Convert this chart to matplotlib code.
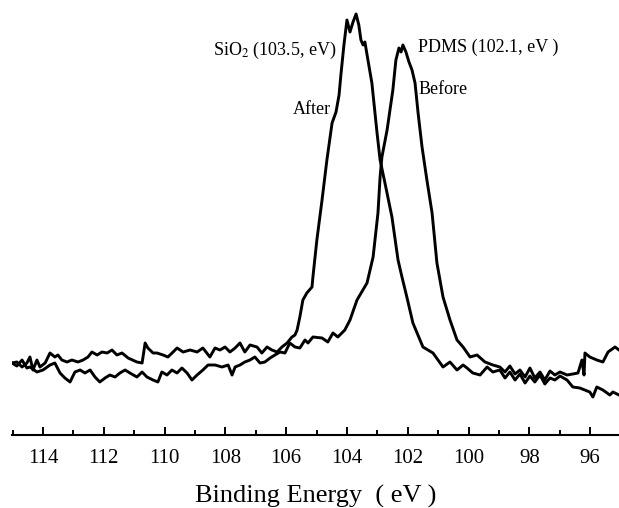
import numpy as np
import matplotlib
matplotlib.use("Agg")
import matplotlib.pyplot as plt
from matplotlib.ticker import MultipleLocator

plt.rcParams['font.family'] = ['Liberation Serif', 'DejaVu Serif']
plt.rcParams['mathtext.fontset'] = 'stix'

# Si 2p spectra (intensity in arbitrary units)
after_energy = [115.02, 114.86, 114.69, 114.53, 114.43, 114.33, 114.20, 114.10, 113.93, 113.77,
                113.61, 113.51, 113.38, 113.21, 113.05, 112.85, 112.68, 112.52, 112.39, 112.22,
                112.06, 111.89, 111.73, 111.57, 111.40, 111.20, 110.91, 110.74, 110.64, 110.55,
                110.38, 110.25, 110.05, 109.89, 109.72, 109.59, 109.39, 109.16, 108.93, 108.74,
                108.51, 108.34, 108.18, 108.01, 107.85, 107.68, 107.52, 107.36, 107.19, 106.96,
                106.80, 106.63, 106.47, 106.30, 106.14, 105.97, 105.81, 105.71, 105.64, 105.55,
                105.45, 105.32, 105.15, 105.12, 104.99, 104.82, 104.66, 104.49, 104.36, 104.26,
                104.20, 104.10, 104.00, 103.90, 103.80, 103.70, 103.61, 103.54, 103.47, 103.41,
                103.31, 103.18, 103.01, 102.91, 102.75, 102.52, 102.32, 102.19, 102.03, 101.83,
                101.50, 101.17, 100.84, 100.61, 100.38, 100.18, 100.05, 99.86, 99.62, 99.39,
                99.20, 98.97, 98.80, 98.64, 98.47, 98.31, 98.14, 97.98, 97.82, 97.65,
                97.49, 97.32, 97.16, 96.99, 96.76, 96.57, 96.34, 96.01, 95.91, 95.78,
                95.58, 95.35, 95.25, 95.05]
after_counts = [37, 38, 33, 37, 43, 30, 40, 33, 37, 47,
                43, 45, 40, 38, 40, 38, 40, 43, 48, 45,
                48, 47, 50, 45, 47, 42, 38, 37, 57, 52,
                47, 47, 45, 43, 48, 52, 48, 50, 48, 52,
                43, 52, 50, 53, 48, 52, 57, 48, 55, 53,
                47, 53, 50, 48, 53, 57, 63, 65, 70, 83,
                100, 107, 113, 123, 160, 200, 240, 277, 288, 305,
                325, 355, 380, 368, 378, 386, 375, 360, 355, 358,
                340, 317, 267, 240, 217, 183, 140, 123, 103, 77,
                53, 47, 33, 38, 30, 35, 32, 27, 25, 33,
                28, 30, 22, 28, 20, 26, 17, 24, 18, 25,
                16, 22, 20, 24, 20, 13, 12, 8, 3, 13,
                10, 5, 8, 5]

before_energy = [115.02, 114.86, 114.69, 114.53, 114.43, 114.20, 114.00, 113.77, 113.61, 113.44,
                 113.28, 113.11, 112.95, 112.78, 112.62, 112.45, 112.29, 112.13, 111.96, 111.80,
                 111.63, 111.47, 111.30, 111.14, 110.91, 110.74, 110.58, 110.38, 110.22, 110.09,
                 109.92, 109.76, 109.59, 109.43, 109.26, 109.10, 108.93, 108.74, 108.57, 108.34,
                 108.11, 107.91, 107.78, 107.68, 107.52, 107.36, 107.19, 107.03, 106.86, 106.70,
                 106.53, 106.37, 106.20, 106.04, 105.88, 105.71, 105.55, 105.38, 105.28, 105.12,
                 104.82, 104.63, 104.46, 104.30, 104.07, 103.90, 103.67, 103.34, 103.14, 102.98,
                 102.91, 102.85, 102.68, 102.49, 102.39, 102.29, 102.22, 102.16, 102.06, 101.96,
                 101.86, 101.76, 101.66, 101.53, 101.37, 101.20, 101.04, 100.84, 100.61, 100.38,
                 100.18, 99.95, 99.72, 99.46, 99.20, 98.97, 98.80, 98.64, 98.47, 98.31,
                 98.14, 97.98, 97.82, 97.65, 97.49, 97.32, 97.16, 96.99, 96.76, 96.57,
                 96.40, 96.27, 96.20, 96.17, 96.01, 95.78, 95.58, 95.41, 95.18, 95.05]
before_counts = [37, 34, 40, 32, 33, 28, 30, 35, 37, 27,
                 22, 18, 28, 30, 27, 30, 23, 18, 22, 25,
                 23, 27, 30, 27, 23, 28, 23, 20, 18, 28,
                 25, 30, 27, 32, 27, 20, 25, 30, 35, 35,
                 33, 35, 25, 33, 35, 38, 40, 43, 37, 38,
                 42, 45, 48, 47, 57, 53, 52, 60, 57, 63,
                 62, 58, 67, 63, 70, 80, 100, 117, 143, 187,
                 223, 243, 270, 310, 340, 352, 348, 355, 348, 338,
                 330, 317, 287, 253, 220, 187, 137, 103, 80, 60,
                 53, 43, 45, 38, 35, 33, 28, 34, 26, 30,
                 23, 32, 22, 28, 20, 29, 25, 28, 25, 26,
                 27, 40, 25, 47, 43, 40, 38, 48, 53, 50]

x_ticks = [114, 112, 110, 108, 106, 104, 102, 100, 98, 96]

fig = plt.figure(figsize=(6.19, 5.08), dpi=100)
ax = fig.add_axes([12 / 619, 73 / 508, 607 / 619, 435 / 508])

ax.plot(after_energy, after_counts, color='black', linewidth=2.1)
ax.plot(before_energy, before_counts, color='black', linewidth=2.1)

ax.set_xlim(115.02, 95.05)
ax.set_ylim(-35, 400)

for s in ['left', 'right', 'top']:
    ax.spines[s].set_visible(False)
ax.spines['bottom'].set_linewidth(1.5)
ax.set_yticks([])
ax.set_xticks(x_ticks)
ax.xaxis.set_minor_locator(MultipleLocator(1))
ax.tick_params(axis='x', which='major', direction='in', length=5.8, width=1.4,
               labelsize=15, pad=10)
ax.tick_params(axis='x', which='minor', direction='in', length=3.6, width=1.4)

ax.set_xlabel('Binding Energy  ( eV )', fontsize=19, labelpad=12.5)

ax.text(104.35, 350, 'SiO$_2$ (103.5, eV)', fontsize=13, ha='right', va='center')
ax.text(105.15, 290, 'After', fontsize=13, ha='center', va='center')
ax.text(101.65, 353, 'PDMS (102.1, eV )', fontsize=13, ha='left', va='center')
ax.text(101.65, 310, 'Before', fontsize=13, ha='left', va='center')

fig.savefig('out.png', dpi=100)
